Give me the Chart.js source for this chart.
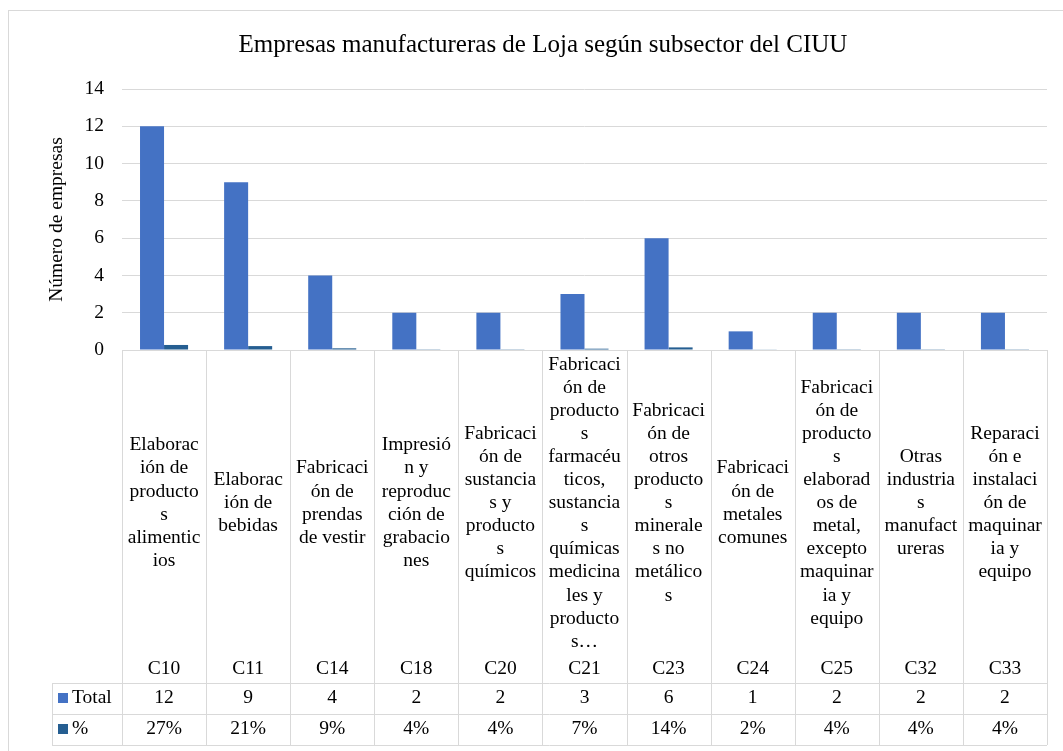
<!DOCTYPE html>
<html>
<head>
<meta charset="utf-8">
<script src="https://cdn.jsdelivr.net/npm/chart.js@4.4.0/dist/chart.umd.min.js"></script>
<style>
  html, body { margin: 0; padding: 0; background: #ffffff; }
  #wrap { width: 1063px; height: 751px; position: relative; }
</style>
</head>
<body>
<div id="wrap"><canvas id="c"></canvas></div>
<script>
// ---- Data ----
const chartTitle = 'Empresas manufactureras de Loja según subsector del CIUU';
const yAxisTitle = 'Número de empresas';
const categories = ['C10','C11','C14','C18','C20','C21','C23','C24','C25','C32','C33'];
const descriptions = [
  ['Elaborac','ión de','producto','s','alimentic','ios'],
  ['Elaborac','ión de','bebidas'],
  ['Fabricaci','ón de','prendas','de vestir'],
  ['Impresió','n y','reproduc','ción de','grabacio','nes'],
  ['Fabricaci','ón de','sustancia','s y','producto','s','químicos'],
  ['Fabricaci','ón de','producto','s','farmacéu','ticos,','sustancia','s','químicas','medicina','les y','producto','s…'],
  ['Fabricaci','ón de','otros','producto','s','minerale','s no','metálico','s'],
  ['Fabricaci','ón de','metales','comunes'],
  ['Fabricaci','ón de','producto','s','elaborad','os de','metal,','excepto','maquinar','ia y','equipo'],
  ['Otras','industria','s','manufact','ureras'],
  ['Reparaci','ón e','instalaci','ón de','maquinar','ia y','equipo']
];
const seriesNames = ['Total','%'];
const totals = [12, 9, 4, 2, 2, 3, 6, 1, 2, 2, 2];
const percents = [0.27, 0.21, 0.09, 0.04, 0.04, 0.07, 0.14, 0.02, 0.04, 0.04, 0.04];
const yMin = 0, yMax = 14, yStep = 2;

// ---- Styles ----
const FONT = "'Liberation Serif', 'Times New Roman', serif";
const TEXT = '#000000';
const GRID = '#d9d9d9';
const COLORS = ['#4472C4', '#255E91'];

function fmtVal(dsIndex, v) {
  return dsIndex === 1 ? Math.round(v * 100) + '%' : String(v);
}

const tablePlugin = {
  id: 'dataTable',
  beforeDraw(chart) {
    const ctx = chart.ctx;
    ctx.save();
    ctx.strokeStyle = GRID;
    ctx.lineWidth = 1;
    ctx.strokeRect(8.5, 10.5, 1060, 745);
    // chart title
    ctx.fillStyle = TEXT;
    ctx.font = '25px ' + FONT;
    ctx.textAlign = 'center';
    ctx.textBaseline = 'middle';
    ctx.fillText(chartTitle, 543, 45);
    ctx.restore();
  },
  afterDraw(chart) {
    const ctx = chart.ctx;
    const area = chart.chartArea;
    const n = chart.data.labels.length;
    const cw = (area.right - area.left) / n;
    const top = area.bottom;
    const rowTop1 = top + 333;   // Total row top
    const rowTop2 = top + 364;   // % row top
    const tableBottom = top + 395;
    const legendLeft = 52;
    ctx.save();
    ctx.strokeStyle = GRID;
    ctx.lineWidth = 1;
    const px = v => Math.round(v) + 0.5;
    // vertical lines
    for (let i = 0; i <= n; i++) {
      const x = px(area.left + i * cw);
      ctx.beginPath(); ctx.moveTo(x, top); ctx.lineTo(x, tableBottom); ctx.stroke();
    }
    ctx.beginPath(); ctx.moveTo(px(legendLeft), rowTop1); ctx.lineTo(px(legendLeft), tableBottom); ctx.stroke();
    // horizontal lines
    [top, rowTop1, rowTop2, tableBottom].forEach((y, k) => {
      const x0 = k === 0 ? area.left : legendLeft;
      ctx.beginPath(); ctx.moveTo(x0, px(y)); ctx.lineTo(area.right, px(y)); ctx.stroke();
    });
    // text
    ctx.fillStyle = TEXT;
    ctx.font = '19.5px ' + FONT;
    ctx.textAlign = 'center';
    ctx.textBaseline = 'middle';
    const lineH = 23.1;
    const blockCenter = top + 153;
    for (let i = 0; i < n; i++) {
      const cx = chart.scales.x.getPixelForValue(i);
      const lines = descriptions[i];
      const start = blockCenter - (lines.length - 1) * lineH / 2;
      lines.forEach((t, j) => ctx.fillText(t, cx, start + j * lineH));
      ctx.fillText(chart.data.labels[i], cx, top + 319);
      chart.data.datasets.forEach((ds, d) => {
        const y = d === 0 ? rowTop1 + 15 : rowTop2 + 15;
        ctx.fillText(fmtVal(d, ds.data[i]), cx, y);
      });
    }
    // legend keys in table
    ctx.textAlign = 'left';
    chart.data.datasets.forEach((ds, d) => {
      const yc = (d === 0 ? rowTop1 : rowTop2) + 15;
      ctx.fillStyle = ds.backgroundColor;
      ctx.fillRect(58, yc - 5, 10, 10);
      ctx.fillStyle = TEXT;
      ctx.fillText(ds.label, 72, yc);
    });
    ctx.restore();
  }
};

new Chart(document.getElementById('c'), {
  type: 'bar',
  data: {
    labels: categories,
    datasets: [
      { label: seriesNames[0], data: totals, backgroundColor: COLORS[0] },
      { label: seriesNames[1], data: percents, backgroundColor: COLORS[1] }
    ]
  },
  options: {
    responsive: true,
    maintainAspectRatio: false,
    animation: false,
    events: [],
    categoryPercentage: 0.5714,
    barPercentage: 1.0,
    layout: { padding: { left: 0, right: 16, top: 89, bottom: 401 } },
    plugins: {
      legend: { display: false },
      tooltip: { enabled: false },
      title: { display: false }
    },
    scales: {
      x: { display: false },
      y: {
        min: yMin, max: yMax,
        ticks: { stepSize: yStep, color: TEXT, padding: 18, font: { family: FONT, size: 19.5 } },
        grid: { color: GRID, drawTicks: false },
        border: { display: false },
        title: {
          display: true, text: yAxisTitle, color: TEXT,
          font: { family: FONT, size: 19.5 },
          padding: { top: 45, bottom: 0 }
        },
        afterFit(scale) { scale.width = 122; }
      }
    }
  },
  plugins: [tablePlugin]
});
</script>
</body>
</html>
